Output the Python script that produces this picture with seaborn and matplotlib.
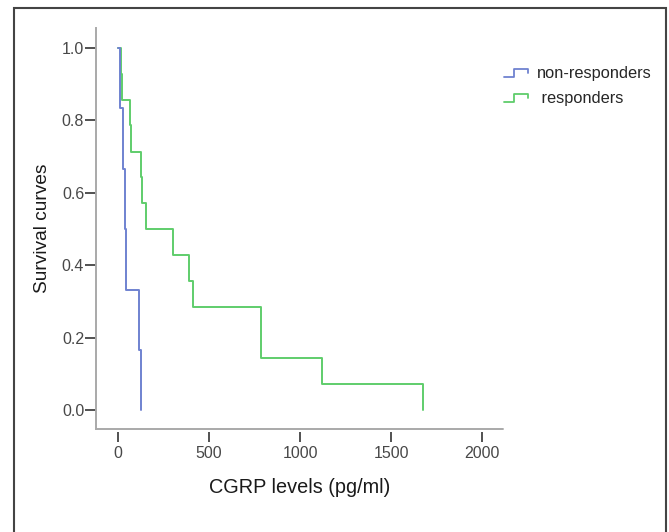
import numpy as np
import pandas as pd
import matplotlib
matplotlib.use("Agg")
import matplotlib.pyplot as plt
import seaborn as sns
from matplotlib.lines import Line2D
from matplotlib.legend_handler import HandlerBase
from matplotlib.patches import Rectangle

# --- data (Kaplan-Meier style step curves) ---
groups = ["non-responders", "responders"]
nonresp_times = [0, 11, 26, 38, 44, 117, 126]
nonresp_surv = [1.0, 0.833, 0.667, 0.5, 0.333, 0.167, 0.0]
resp_times = [0, 15, 24, 68, 72, 126, 132, 154, 304, 390, 414, 787, 787, 1123, 1677]
resp_surv = [1.0, 0.929, 0.857, 0.786, 0.714, 0.643, 0.571, 0.5, 0.429, 0.357,
             0.286, 0.214, 0.143, 0.071, 0.0]
x_ticks = [0, 500, 1000, 1500, 2000]
y_ticks = [0.0, 0.2, 0.4, 0.6, 0.8, 1.0]

colors = {"non-responders": "#6f82d0", "responders": "#5fcd6b"}

df = pd.concat([
    pd.DataFrame({"time": resp_times, "surv": resp_surv, "group": "responders"}),
    pd.DataFrame({"time": nonresp_times, "surv": nonresp_surv, "group": "non-responders"}),
], ignore_index=True)

sns.set_style("white")
plt.rcParams["font.family"] = ["Liberation Sans", "DejaVu Sans"]

fig = plt.figure(figsize=(6.69, 5.32), dpi=100)
ax = fig.add_axes([96 / 669, 1 - 429 / 532, (503 - 96) / 669, (429 - 28) / 532])

sns.lineplot(data=df, x="time", y="surv", hue="group", palette=colors,
             estimator=None, sort=False, drawstyle="steps-post",
             linewidth=1.4, legend=False, ax=ax)

ax.set_xlim(-121, 2115)
ax.set_ylim(-0.052, 1.055)
ax.set_xticks(x_ticks)
ax.set_yticks(y_ticks)
ax.set_yticklabels([f"{v:.1f}" for v in y_ticks])

spine_col = "#a9a9a9"
for s in ["top", "right"]:
    ax.spines[s].set_visible(False)
ax.spines["left"].set_color(spine_col)
ax.spines["left"].set_linewidth(1.4)
# bottom: ticks detached from the axis line
ax.spines["bottom"].set_position(("outward", 2))
ax.spines["bottom"].set_visible(False)
ax.plot([0, 1], [0, 0], transform=ax.transAxes, color=spine_col, lw=1.4, clip_on=False)

ax.tick_params(axis="both", direction="out", color="#333333", width=1.2,
               labelsize=11.5, labelcolor="#484848", bottom=True, left=True)
ax.tick_params(axis="y", length=8, pad=0.5)
ax.tick_params(axis="x", length=7.5, pad=3)

ax.set_xlabel("CGRP levels (pg/ml)", fontsize=14.3, color="#1a1a1a", labelpad=12)
ax.set_ylabel("Survival curves", fontsize=13.8, color="#1a1a1a", labelpad=8)


class StepHandler(HandlerBase):
    def create_artists(self, legend, orig_handle, xdescent, ydescent,
                       width, height, fontsize, trans):
        x0, y0 = -xdescent, -ydescent
        xs = [x0, x0 + 0.42 * width, x0 + 0.42 * width, x0 + width, x0 + width]
        ys = [y0 + 0.15 * height, y0 + 0.15 * height, y0 + 0.85 * height,
              y0 + 0.85 * height, y0 + 0.45 * height]
        ln = Line2D(xs, ys, color=orig_handle.get_color(), lw=1.3, transform=trans)
        return [ln]


handles = [Line2D([], [], color=colors[g]) for g in groups]
labels = ["non-responders", " responders"]
fig.legend(handles, labels, handler_map={Line2D: StepHandler()},
           loc="upper left", bbox_to_anchor=(493 / 669, 1 - 55 / 532),
           frameon=False, fontsize=11.8, handlelength=1.45, handletextpad=0.55,
           labelspacing=0.6, borderpad=0.2)

# outer frame of the figure (open at the bottom)
fig.patches.append(Rectangle((14 / 669, -0.2), (666 - 14) / 669, 1 - 8 / 532 + 0.2,
                             transform=fig.transFigure, fill=False,
                             edgecolor="#444444", lw=1.5))

fig.savefig("out.png", dpi=100)
